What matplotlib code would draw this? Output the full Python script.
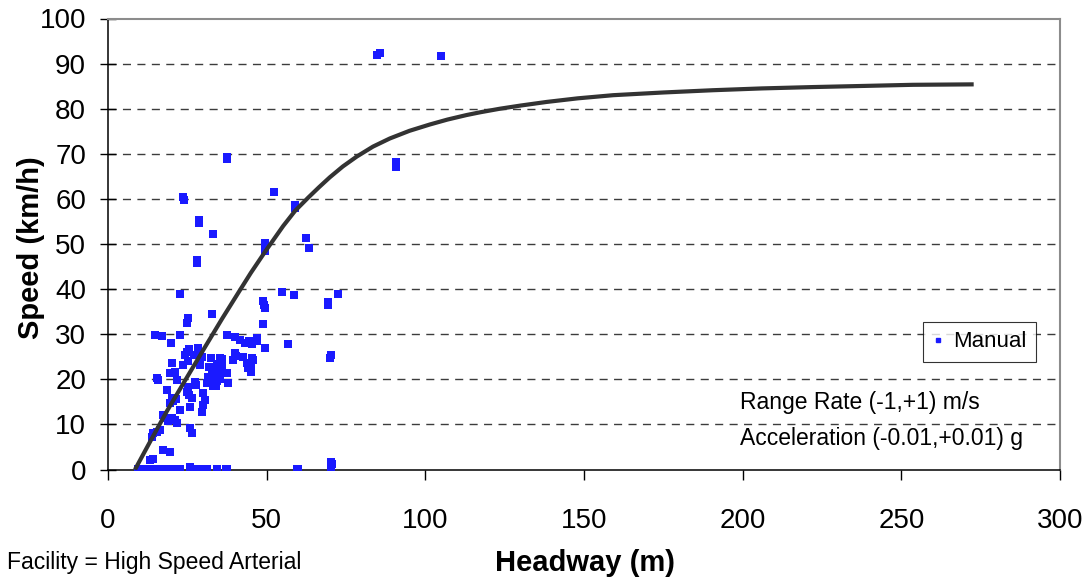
import matplotlib
matplotlib.use("Agg")
import matplotlib.pyplot as plt
from matplotlib.lines import Line2D

plt.rcParams['font.family'] = ['Liberation Sans', 'DejaVu Sans']

# Fitted curve
curve_h = [8.5, 13.5, 18.6, 24.5, 30.6, 36.0, 41.6, 45.0, 49.5, 55.2, 59.0, 63.1, 66.5, 69.9,
           74.0, 78.4, 83.5, 88.8, 95.0, 101.4, 107.0, 113.0, 117.2, 123.5, 130.0, 138.2, 148.0,
           159.2, 175.0, 190.6, 206.0, 222.1, 238.0, 253.6, 272.8]
curve_v = [0.0, 6.5, 13.0, 20.0, 27.2, 33.5, 39.8, 43.6, 48.3, 54.0, 57.4, 60.3, 62.6, 64.8,
           67.2, 69.4, 71.6, 73.4, 75.1, 76.5, 77.6, 78.6, 79.2, 80.0, 80.7, 81.5, 82.3,
           83.0, 83.6, 84.1, 84.5, 84.8, 85.05, 85.3, 85.4]

# Scatter "Manual" (headway m, speed km/h)
man_h = [23.7, 23.8, 37.4, 37.5, 28.7, 28.8, 33.1, 28.1, 28.2, 22.7, 32.7, 25.2, 24.9,
         52.3, 58.9, 58.9, 49.4, 49.4, 49.5, 62.4, 63.3, 54.8, 58.6, 48.8, 49.3, 49.4, 48.8,
         46.9, 47.0, 45.3, 49.4, 56.7, 69.3, 69.4, 72.4, 70.2, 70.0, 45.3, 45.2, 45.1,
         84.8, 85.8, 104.8, 90.8, 90.9,
         14.8, 17.0, 22.7, 19.9, 24.9, 24.3, 25.4, 28.4, 29.0, 29.7, 27.2, 20.2, 23.7, 25.2,
         19.6, 21.1, 29.0, 31.7, 32.8, 33.8, 32.2, 31.2, 34.2, 34.7, 33.2, 35.2, 37.6, 37.9,
         15.4, 15.7, 21.8, 27.5, 27.8, 18.6, 25.2, 24.9, 25.4, 26.5, 25.9, 20.2, 20.5, 19.6,
         21.3, 22.7, 30.0, 30.6, 30.0, 29.7, 17.3, 18.6, 20.2, 21.1, 21.8, 18.8, 25.9, 26.5,
         14.2, 15.4, 16.4, 13.9, 17.3, 19.6, 13.2, 14.2,
         37.6, 40.0, 41.6, 43.1, 44.3, 45.3, 46.9, 40.0, 40.3, 39.4, 42.6, 43.8, 44.1, 45.6, 35.4,
         33.5, 34.5, 35.0, 36.0, 34.0, 35.8, 32.5, 31.5,
         9.4, 10.7, 11.6, 12.6, 14.2, 15.4, 16.4, 18.0, 19.6, 21.1, 22.7, 25.9, 26.8, 28.4, 29.7,
         31.2, 34.4, 37.6, 21.8, 25.9, 37.3, 59.5, 59.8, 70.5, 70.2, 70.3, 70.2]
man_v = [60.4, 59.8, 68.8, 69.3, 55.3, 54.6, 52.2, 45.8, 46.4, 38.9, 34.5, 33.6, 32.5,
         61.5, 58.6, 58.0, 50.2, 49.1, 48.4, 51.3, 49.1, 39.4, 38.7, 37.4, 36.5, 35.8, 32.3,
         29.2, 28.6, 27.9, 27.0, 27.9, 37.2, 36.5, 38.9, 25.4, 24.7, 24.8, 23.2, 21.7,
         91.8, 92.3, 91.6, 68.1, 67.0,
         29.9, 29.6, 29.9, 28.1, 26.1, 25.4, 26.8, 27.0, 26.1, 25.0, 25.4, 23.7, 23.2, 24.0,
         21.5, 21.7, 23.2, 22.8, 21.7, 20.6, 19.5, 19.2, 19.6, 20.8, 18.6, 20.0, 21.5, 19.2,
         20.4, 19.8, 19.9, 19.5, 18.8, 17.7, 18.4, 17.2, 16.5, 15.9, 13.9, 15.9, 15.2, 14.7,
         15.6, 13.3, 17.0, 15.5, 14.4, 12.8, 12.2, 11.5, 11.5, 11.1, 10.3, 10.8, 9.3, 8.2,
         8.2, 8.4, 8.8, 7.3, 4.4, 3.8, 2.2, 2.4,
         29.9, 29.4, 28.8, 28.1, 28.5, 28.1, 28.8, 25.9, 25.2, 24.3, 25.0, 23.7, 22.6, 24.3, 24.8,
         22.5, 23.5, 21.0, 22.8, 18.5, 24.5, 24.7, 20.5,
         0.2, 0.2, 0.2, 0.2, 0.2, 0.2, 0.2, 0.2, 0.2, 0.2, 0.2, 0.2, 0.2, 0.2, 0.2,
         0.2, 0.2, 0.2, 0.2, 0.6, 0.2, 0.2, 0.2, 1.2, 1.6, 0.6, 0.1]

x_ticks = [0, 50, 100, 150, 200, 250, 300]
y_ticks = [0, 10, 20, 30, 40, 50, 60, 70, 80, 90, 100]

W, H = 1090, 580
fig = plt.figure(figsize=(W / 100, H / 100), dpi=100)
L, R, T, B = 108, 1060, 18.5, 469.6
ax = fig.add_axes([L / W, 1 - B / H, (R - L) / W, (B - T) / H])

ax.set_xlim(0, 300)
ax.set_ylim(0, 100)
ax.set_xticks(x_ticks)
ax.set_yticks(y_ticks)

for y in y_ticks[1:-1]:
    ax.axhline(y, color='#3c3c3c', lw=1.0, ls=(0, (5.8, 4.6)), zorder=1)

ax.scatter(man_h, man_v, marker='s', s=30, color='#1a1aff', linewidths=0, zorder=3)
ax.plot(curve_h, curve_v, color='#333333', lw=3, zorder=4, solid_capstyle='butt',
        solid_joinstyle='round')

for s in ['top', 'right']:
    ax.spines[s].set_color('#8c8c8c')
    ax.spines[s].set_linewidth(1.5)
for s in ['left', 'bottom']:
    ax.spines[s].set_color('black')
    ax.spines[s].set_linewidth(1.1)

ax.tick_params(axis='both', labelsize=20, colors='black', width=1)
ax.tick_params(axis='x', direction='out', length=7, pad=21)
ax.tick_params(axis='y', direction='inout', length=11.5, pad=10)

fig.text(31 / W, 1 - 248 / H, 'Speed (km/h)', fontsize=21, fontweight='bold',
         rotation=90, ha='center', va='center')
fig.text(585 / W, 1 - 563 / H, 'Headway (m)', fontsize=21, fontweight='bold',
         ha='center', va='center')
fig.text(7 / W, 1 - 563 / H, 'Facility = High Speed Arterial', fontsize=16.5,
         va='center', ha='left')

fig.text(740 / W, 1 - 402 / H, 'Range Rate (-1,+1) m/s', fontsize=16.5, va='center', ha='left')
fig.text(740 / W, 1 - 438 / H, 'Acceleration (-0.01,+0.01) g', fontsize=16.5, va='center', ha='left')

handle = Line2D([], [], ls='none', marker='s', markersize=3, color='#1a1aff')
leg = ax.legend([handle], ['Manual'], loc='upper left', bbox_to_anchor=(923 / W, 1 - 322 / H),
                bbox_transform=fig.transFigure, fontsize=16, frameon=True, fancybox=False,
                handlelength=0.5, handletextpad=0.45, borderpad=0.42, borderaxespad=0)
leg.get_frame().set_edgecolor('black')
leg.get_frame().set_linewidth(0.8)

fig.savefig('out.png', dpi=100)
